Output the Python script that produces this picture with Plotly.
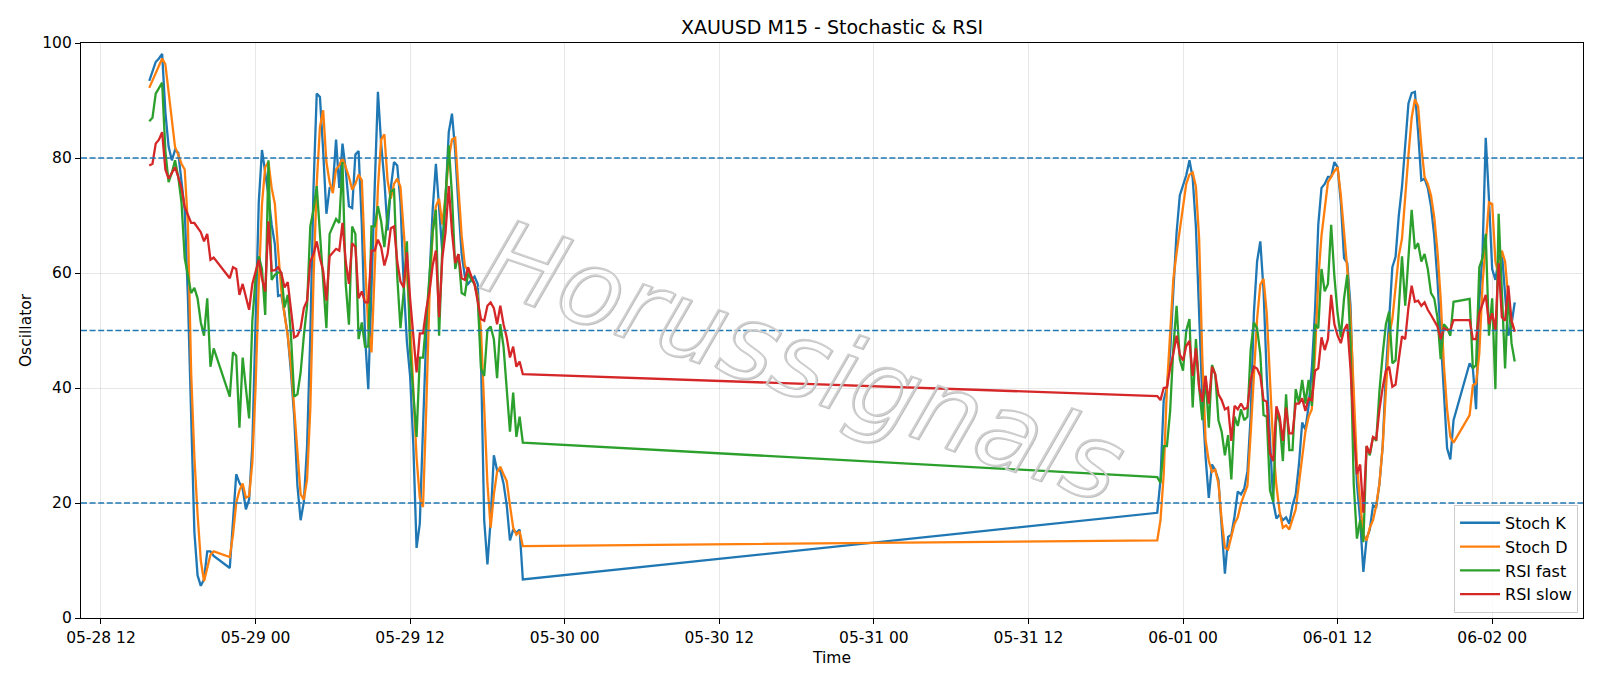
import numpy as np
import pandas as pd
import plotly.graph_objects as go

# ---------------- data (M15 bars) ----------------
seg1_start = "2026-05-28 15:45"
seg1_bars = list(range(0, 21)) + list(range(25, 117))
seg2_start = "2026-05-31 22:00"
seg2_bars = list(range(0, 93)) + list(range(97, 112))

stoch_k = [
    93.4, 95.0, 96.7, 97.3, 98.1, 88.0, 82.0, 79.6, 81.4, 80.9, 76.0, 71.0, 55.6, 35.0, 15.0, 7.4, 5.6, 6.7, 11.6, 11.6, 10.8,
    8.7, 17.0, 25.0, 23.5, 22.5, 18.9, 20.6, 30.0, 50.0, 72.3, 81.4, 77.7, 73.5, 68.4, 65.0, 56.0,
    56.2, 53.0, 49.1, 42.7, 35.0, 23.0, 17.0, 20.2, 29.9, 49.1, 74.8, 91.2, 90.6, 81.2, 70.3, 74.8, 75.1, 83.2, 74.8, 82.5,
    78.0, 71.6, 71.3, 80.6, 81.2, 68.4, 49.1, 39.8, 55.6, 74.8, 91.5, 82.5, 76.1, 67.4, 74.8, 79.3, 78.7, 72.3, 58.0, 48.0,
    42.0, 30.0, 12.2, 16.4, 33.1, 49.1, 58.8, 71.0, 79.0, 71.6, 63.6, 72.9, 84.5, 87.7, 81.2, 71.6, 63.3, 59.4, 58.1, 58.8,
    59.4, 58.1, 45.0, 17.0, 9.3, 17.0, 28.3, 25.7, 25.7, 23.4, 19.6, 13.5, 15.4, 14.8, 15.4, 6.7,
    # segment 2
    18.3, 24.0, 37.9, 40.1, 46.0, 57.0, 67.0, 73.5, 75.3, 77.0,
    79.6, 76.5, 68.0, 53.0, 38.0, 28.0, 20.9, 26.7, 25.7, 24.0,
    16.0, 7.7, 14.1, 14.5, 17.7, 22.0, 21.5, 22.5, 25.5, 35.0,
    53.0, 62.0, 65.5, 57.0, 42.0, 29.9, 20.2, 17.3, 18.0, 17.0,
    17.5, 16.4, 19.6, 21.5, 26.7, 34.0, 32.8, 36.9, 43.4, 53.6,
    68.4, 74.8, 75.5, 76.7, 76.7, 79.3, 78.4, 72.3, 62.6, 61.7,
    54.3, 36.3, 23.4, 17.0, 8.0, 13.8, 15.4, 19.6, 19.3, 23.4,
    29.9, 42.7, 52.3, 61.0, 62.8, 70.0, 75.0, 83.0, 89.5, 91.3,
    91.5, 84.5, 76.1, 76.4, 74.8, 71.6, 66.5, 58.8, 49.1, 39.5,
    29.5, 27.6, 34.4,
    44.3, 43.4, 36.3, 55.0, 63.5, 83.5, 72.9, 60.7, 58.8, 62.5, 63.6, 55.6, 49.1, 51.1, 54.9,
]

stoch_d = [
    92.2, 93.5, 94.7, 96.0, 97.3, 96.3, 91.5, 86.4, 81.9, 80.6, 79.0, 78.0, 68.4, 42.7, 28.0, 18.0, 10.0, 6.4, 8.7, 11.0, 11.6,
    10.6, 14.5, 20.0, 22.2, 23.4, 20.9, 21.2, 27.0, 40.0, 58.0, 72.0, 78.4, 79.3, 74.8, 72.0, 64.0,
    57.0, 52.7, 49.1, 43.9, 37.0, 29.0, 21.5, 20.6, 24.1, 36.3, 58.8, 75.5, 85.4, 88.3, 79.3, 75.8, 73.9, 78.0, 78.7, 80.0,
    78.4, 76.7, 74.5, 75.5, 77.1, 76.1, 62.0, 50.4, 46.2, 62.0, 74.8, 83.2, 84.1, 76.1, 72.9, 75.5, 76.4, 75.0, 67.0, 60.0,
    52.0, 39.5, 27.9, 20.9, 19.3, 36.3, 55.6, 67.1, 71.6, 72.9, 68.4, 73.5, 79.9, 83.2, 83.5, 74.8, 66.5, 61.3, 60.4, 59.4,
    58.1, 56.0, 50.0, 36.3, 23.4, 15.7, 21.5, 25.4, 26.3, 25.0, 23.8, 19.6, 15.7, 14.5, 15.1, 12.5,
    # segment 2
    13.5, 17.0, 25.0, 40.0, 49.0, 59.0, 63.5, 67.5, 72.0, 75.5,
    77.1, 77.5, 75.0, 66.0, 45.0, 31.0, 27.3, 25.4, 25.8, 23.4,
    17.0, 12.2, 11.9, 14.0, 16.4, 17.5, 19.9, 21.5, 23.0, 32.0,
    42.0, 52.0, 58.0, 59.0, 53.0, 42.0, 30.0, 23.0, 18.5, 15.7,
    16.1, 15.4, 17.0, 18.9, 23.4, 27.9, 32.4, 35.0, 36.3, 45.9,
    58.8, 66.5, 71.6, 75.8, 76.7, 77.7, 78.4, 73.5, 67.1, 60.7,
    52.3, 39.5, 26.7, 20.2, 14.5, 13.5, 15.7, 17.0, 19.6, 23.4,
    29.9, 39.5, 49.1, 52.0, 58.0, 63.0, 66.0, 74.0, 80.5, 87.0,
    90.2, 89.0, 82.0, 76.7, 75.5, 73.5, 69.7, 63.9, 55.6, 44.0,
    36.3, 31.5, 30.5,
    35.3, 40.5, 40.8, 46.0, 58.0, 65.8, 72.3, 72.0, 62.0, 59.6, 63.9, 62.0, 55.6, 51.7, 49.8,
]

rsi_fast = [
    86.4, 87.0, 91.2, 92.2, 93.1, 81.2, 75.8, 77.4, 79.6, 76.7, 72.3, 62.6, 59.4, 56.5, 57.4, 55.6, 51.4, 49.1, 55.6, 43.7, 46.9,
    38.5, 46.2, 45.6, 33.1, 45.3, 40.0, 34.7, 51.7, 59.1, 62.9, 60.7, 52.7, 79.6, 58.8, 59.7, 60.1,
    60.0, 54.0, 56.2, 49.1, 38.5, 38.9, 42.7, 49.1, 54.3, 68.1, 71.0, 75.1, 66.5, 59.4, 50.4, 66.8, 68.1, 69.4, 68.7, 79.3,
    58.1, 51.0, 68.1, 66.8, 48.5, 51.4, 47.2, 47.2, 68.1, 68.1, 71.6, 69.0, 64.5, 70.0, 74.2, 74.5, 59.4, 50.4, 56.8, 65.5,
    46.5, 38.9, 31.5, 45.3, 45.3, 51.7, 59.4, 67.1, 71.0, 49.1, 64.5, 74.2, 82.2, 73.5, 60.7, 63.3, 56.5, 56.2, 60.0, 58.8,
    58.1, 55.6, 43.4, 42.1, 50.1, 50.7, 48.5, 41.7, 51.1, 47.2, 40.1, 32.4, 39.2, 31.5, 35.0, 30.5,
    # segment 2
    24.5, 23.5, 29.9, 29.9, 36.0, 47.0, 54.3, 45.0, 43.0, 50.0,
    52.0, 36.6, 48.5, 40.1, 34.4, 42.1, 33.1, 44.0, 42.4, 34.4,
    32.4, 28.3, 31.8, 24.1, 35.0, 33.4, 36.3, 34.4, 35.0, 46.6,
    51.4, 50.4, 45.9, 35.3, 35.0, 22.2, 20.2, 36.0, 34.0, 27.3,
    38.9, 29.2, 29.2, 39.8, 37.3, 41.4, 37.3, 41.4, 36.9, 51.1,
    50.4, 60.7, 56.8, 58.1, 68.4, 59.4, 53.0, 48.8, 55.6, 59.7,
    47.8, 23.4, 13.8, 17.0, 13.2, 29.9, 28.3, 31.5, 30.8, 39.5,
    45.9, 51.1, 53.3, 44.3, 44.8, 55.0, 62.9, 54.3, 62.6, 71.0,
    64.2, 65.2, 62.0, 63.3, 60.7, 56.5, 55.6, 52.3, 45.0, 51.1,
    50.4, 49.1, 55.0,
    55.5, 43.4, 44.0, 61.0, 62.6, 66.8, 49.1, 55.6, 39.8, 70.3, 55.6, 43.4, 56.8, 47.8, 44.6,
]

rsi_slow = [
    78.7, 79.0, 82.5, 83.2, 84.5, 78.0, 76.4, 77.5, 78.4, 76.7, 74.8, 71.5, 70.0, 68.7, 68.7, 68.0, 67.1, 65.5, 66.8, 62.3, 62.7,
    59.1, 61.0, 60.7, 56.2, 58.1, 55.8, 53.6, 58.1, 60.0, 62.3, 59.0, 56.8, 69.0, 60.4, 60.5, 61.0,
    60.0, 57.5, 58.4, 53.6, 48.8, 49.1, 50.4, 53.9, 55.2, 62.0, 63.3, 65.5, 62.6, 60.4, 55.2, 62.9, 63.6, 64.2, 63.9, 68.7,
    62.0, 58.1, 65.2, 64.5, 55.6, 56.8, 54.9, 54.9, 63.9, 63.9, 65.8, 64.5, 61.3, 63.3, 67.8, 68.1, 62.0, 58.5, 57.5, 63.6,
    55.5, 48.5, 42.7, 49.5, 49.5, 53.6, 56.8, 61.3, 63.9, 52.3, 62.6, 67.1, 75.1, 67.1, 61.7, 63.3, 59.1, 58.8, 61.0, 59.4,
    58.1, 55.0, 52.0, 51.7, 54.3, 54.9, 53.9, 51.1, 54.3, 51.1, 48.8, 45.3, 47.2, 43.7, 44.6, 42.4,
    # segment 2
    38.6, 37.9, 40.0, 40.1, 43.5, 46.0, 49.1, 45.8, 44.8, 47.3,
    48.2, 42.1, 46.9, 40.1, 37.6, 42.1, 37.3, 43.7, 42.4, 38.9,
    37.9, 36.3, 36.6, 30.8, 36.9, 36.3, 37.3, 36.3, 36.6, 41.4,
    43.7, 43.4, 42.1, 37.9, 37.6, 28.6, 27.3, 36.8, 35.0, 30.8,
    36.6, 32.1, 32.1, 37.3, 37.3, 38.2, 36.0, 38.2, 37.9, 43.0,
    43.4, 48.8, 46.6, 48.5, 56.2, 51.1, 49.1, 47.8, 50.1, 51.1,
    43.4, 33.1, 25.0, 26.7, 18.3, 29.9, 28.6, 31.5, 31.1, 36.3,
    40.1, 43.0, 43.7, 40.2, 40.6, 45.0, 49.0, 48.5, 54.0, 57.8,
    55.0, 55.2, 54.3, 54.9, 53.6, 52.7, 51.7, 50.7, 48.5, 50.4,
    50.1, 50.1, 51.8,
    51.8, 48.5, 48.5, 53.0, 54.5, 56.2, 51.1, 53.0, 50.1, 61.7, 52.3, 51.7, 57.8, 51.7, 49.8,
]

series_names = ["Stoch K", "Stoch D", "RSI fast", "RSI slow"]
series_colors = ["#1f77b4", "#ff7f0e", "#2ca02c", "#d62728"]

tick_times = ["2026-05-28 12:00", "2026-05-29 00:00", "2026-05-29 12:00", "2026-05-30 00:00",
              "2026-05-30 12:00", "2026-05-31 00:00", "2026-05-31 12:00", "2026-06-01 00:00",
              "2026-06-01 12:00", "2026-06-02 00:00"]
tick_labels = ["05-28 12", "05-29 00", "05-29 12", "05-30 00", "05-30 12",
               "05-31 00", "05-31 12", "06-01 00", "06-01 12", "06-02 00"]
y_ticks = [0, 20, 40, 60, 80, 100]
levels = [20, 50, 80]

title_text = "XAUUSD M15 - Stochastic & RSI"
watermark = "Horussignals"

# ---------------- build ----------------
t1 = pd.Timestamp(seg1_start) + pd.to_timedelta(np.array(seg1_bars) * 15, unit="m")
t2 = pd.Timestamp(seg2_start) + pd.to_timedelta(np.array(seg2_bars) * 15, unit="m")
times = list(t1) + list(t2)

FONT = "DejaVu Sans"
fig = go.Figure()
for name, vals, col in zip(series_names, [stoch_k, stoch_d, rsi_fast, rsi_slow], series_colors):
    fig.add_trace(go.Scatter(x=times, y=vals, mode="lines", name=name,
                             line=dict(color=col, width=2.3)))

for lv in levels:
    fig.add_shape(type="line", xref="paper", x0=0, x1=1, yref="y", y0=lv, y1=lv,
                  line=dict(color="#1f77b4", width=1.5, dash="6px,2.6px"), layer="above")

tmin, tmax = min(times), max(times)
pad = (tmax - tmin) * 0.05
xr = [(tmin - pad).strftime("%Y-%m-%d %H:%M:%S"), (tmax + pad).strftime("%Y-%m-%d %H:%M:%S")]

grid_col = "rgba(176,176,176,0.3)"
axis_common = dict(showline=True, linecolor="black", linewidth=1.2, mirror=True,
                   ticks="outside", ticklen=5, tickwidth=1.2, tickcolor="black",
                   showgrid=True, gridcolor=grid_col, gridwidth=1.2, zeroline=False,
                   tickfont=dict(family=FONT, size=15.5, color="black"))

fig.update_layout(
    width=1600, height=686,
    margin=dict(l=81, r=17, t=43, b=68),
    paper_bgcolor="white", plot_bgcolor="white",
    font=dict(family=FONT, color="black"),
    title=dict(text=title_text, x=0.5, xref="paper", xanchor="center",
               y=1 - 27.5 / 686, yref="container", yanchor="middle",
               font=dict(family=FONT, size=19, color="black")),
    xaxis=dict(type="date", range=xr, tickvals=tick_times, ticktext=tick_labels,
               title=dict(text="Time", font=dict(family=FONT, size=15.5), standoff=6),
               **axis_common),
    yaxis=dict(range=[0, 100], tickvals=y_ticks, ticktext=[str(v) for v in y_ticks],
               title=dict(text="Oscillator", font=dict(family=FONT, size=15.5), standoff=6),
               **axis_common),
    legend=dict(x=0.9967, y=0.009, xanchor="right", yanchor="bottom",
                bgcolor="rgba(255,255,255,0.8)", bordercolor="#cccccc", borderwidth=1,
                font=dict(family=FONT, size=16, color="black"), itemwidth=40),
    showlegend=True,
)

# watermark: soft shadow layer + light outline layer
fig.add_annotation(
    xref="paper", yref="paper", x=0.481, y=0.447, showarrow=False, xshift=1.2, yshift=-1.2,
    text='<span style="fill:none;stroke:#b4b4b4;stroke-width:1.6px">' + watermark + "</span>",
    textangle=19, opacity=0.85,
    font=dict(family=FONT, size=104, style="italic", color="#b4b4b4"),
)
fig.add_annotation(
    xref="paper", yref="paper", x=0.481, y=0.447, showarrow=False,
    text='<span style="fill:none;stroke:#d0d0d0;stroke-width:1.6px">' + watermark + "</span>",
    textangle=19,
    font=dict(family=FONT, size=104, style="italic", color="#d0d0d0"),
)

fig.write_html("out.html", post_script="document.body.style.margin='0';")
